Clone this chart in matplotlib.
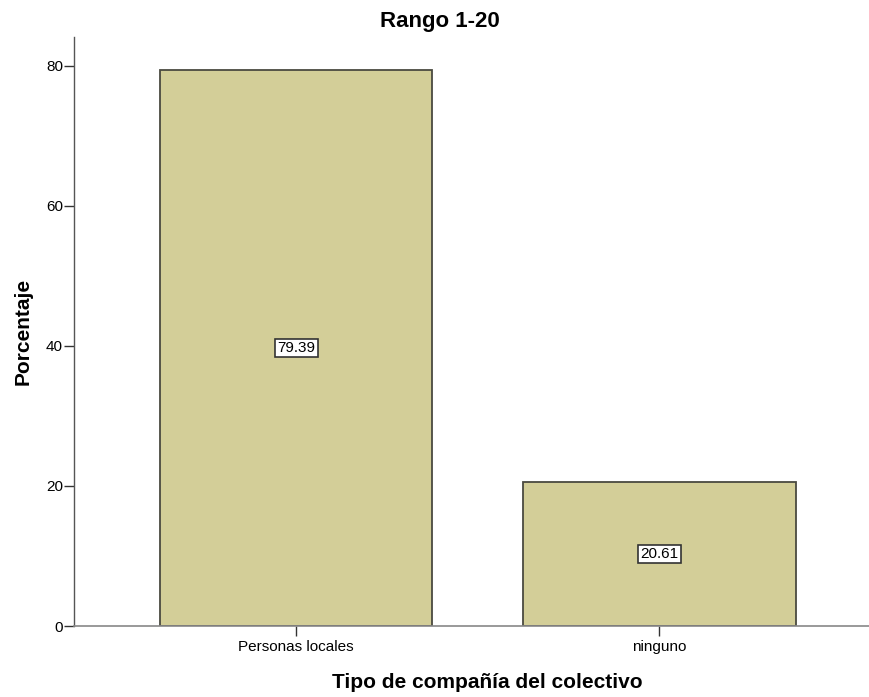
import matplotlib
matplotlib.use("Agg")
import matplotlib.pyplot as plt

categories = ["Personas locales", "ninguno"]
percentages = [79.39, 20.61]
y_ticks = [0, 20, 40, 60, 80]

plt.rcParams["font.family"] = ["Liberation Sans", "DejaVu Sans"]

fig = plt.figure(figsize=(8.70, 6.97), dpi=100)
ax = fig.add_axes([74 / 870, 1 - 626 / 697, 796 / 870, 589 / 697])

x = list(range(len(categories)))
ax.bar(x, percentages, width=0.75, color="#D3CE98", edgecolor="#4a4a40", linewidth=1.3)

for xi, v in zip(x, percentages):
    ax.text(xi, v / 2, f"{v:.2f}", ha="center", va="center", fontsize=11,
            bbox=dict(boxstyle="square,pad=0.15", facecolor="white", edgecolor="#333333", linewidth=1.2))

ax.set_xlim(-0.612, 1.58)
ax.set_ylim(0, 84.1)
ax.set_xticks(x)
ax.set_xticklabels(categories, fontsize=11)
ax.set_yticks(y_ticks)
ax.set_yticklabels([str(t) for t in y_ticks], fontsize=11)

for side in ("top", "right"):
    ax.spines[side].set_visible(False)
ax.spines["left"].set_color("#555555")
ax.spines["bottom"].set_color("#888888")
ax.spines["left"].set_linewidth(1.0)
ax.spines["bottom"].set_linewidth(1.2)
ax.tick_params(axis="y", length=7, width=1.0, color="#333333", pad=1)
ax.tick_params(axis="x", length=7, width=1.0, color="#333333", pad=3)

ax.set_ylabel("Porcentaje", fontsize=15, fontweight="bold")
ax.yaxis.set_label_coords((33 - 74) / 796, 0.5)
fig.text(487 / 870, 1 - 682 / 697, "Tipo de compañía del colectivo", ha="center", va="center",
         fontsize=15, fontweight="bold")
fig.text(440 / 870, 1 - 21 / 697, "Rango 1-20", ha="center", va="center",
         fontsize=16, fontweight="bold")

fig.savefig("out.png", dpi=100)
